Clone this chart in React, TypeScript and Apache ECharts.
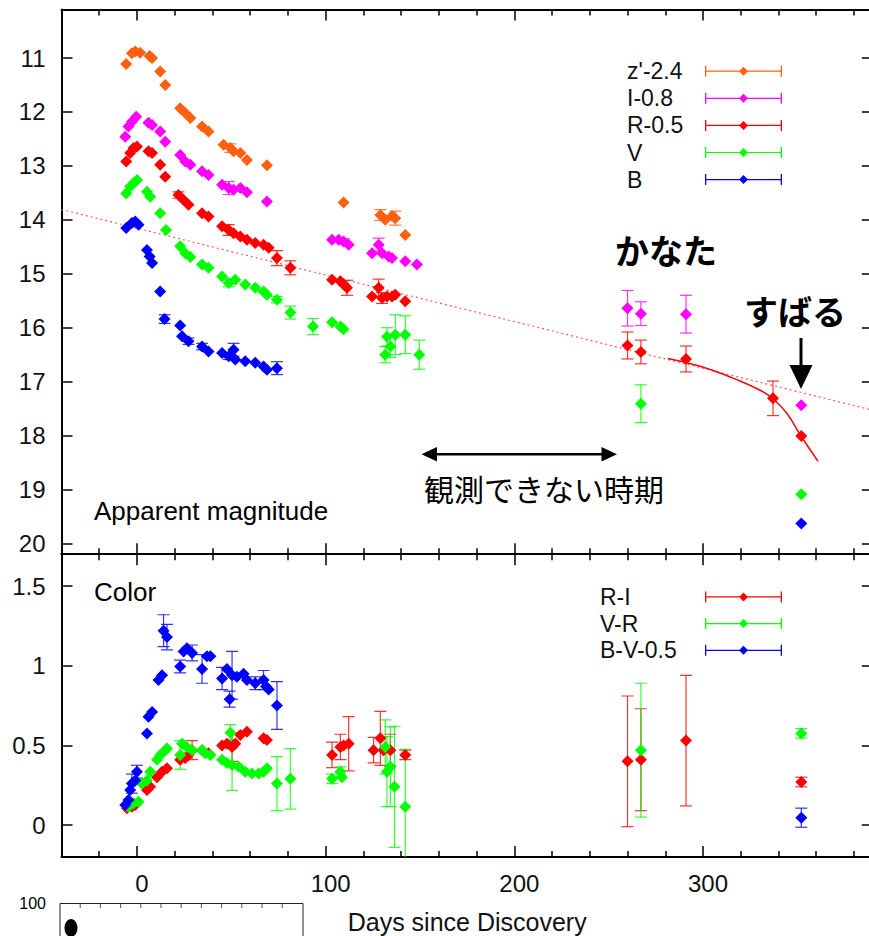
import React, { useEffect, useRef } from 'react';
import * as echarts from 'echarts';

const FONT = '"Liberation Sans", Arial, Helvetica, sans-serif';
const JP = '"Noto Sans CJK JP", sans-serif';

// ---- axis ticks ----
const magTicks = [11, 12, 13, 14, 15, 16, 17, 18, 19, 20];
const colorTicks = [0, 0.5, 1, 1.5];
const dayTicks = [0, 100, 200, 300];
const dayMinorTicks = [-20, 20, 40, 60, 80, 120, 140, 160, 180, 220, 240, 260, 280, 320, 340, 360, 380];

// ---- Apparent magnitude (top panel) ----
const zDays = [-5.7, -2.7, -0.9, 1.7, 6.7, 8.0, 12.3, 15.0, 22.9, 25.6, 28.3, 34.5, 37.9, 45.9, 49.5, 51.2, 54.8, 58.3, 68.9, 109.5, 129.0, 131.6, 135.2, 136.9, 142.2];
const zMag = [11.11, 10.91, 10.88, 10.9, 10.96, 11.0, 11.25, 11.5, 11.93, 12.02, 12.11, 12.27, 12.36, 12.61, 12.67, 12.73, 12.76, 12.89, 12.99, 13.68, 13.91, 14.0, 13.93, 13.97, 14.28];
const zErr = [0, 0, 0, 0, 0, 0, 0, 0, 0, 0, 0, 0, 0, 0, 0.08, 0, 0, 0, 0, 0, 0.1, 0, 0, 0.13, 0];

const iDays = [-6.2, -4.5, -2.7, -0.4, 6.1, 8.0, 12.3, 15.0, 22.9, 25.6, 28.3, 34.5, 37.9, 45.1, 48.6, 51.2, 54.8, 58.3, 68.9, 103.4, 106.9, 109.5, 112.2, 124.6, 128.1, 129.9, 133.4, 135.2, 142.2, 148.4, 260.0, 267.1, 291.0, 352.1];
const iMag = [12.46, 12.27, 12.18, 12.09, 12.2, 12.24, 12.36, 12.55, 12.8, 12.92, 12.98, 13.1, 13.17, 13.35, 13.41, 13.44, 13.41, 13.49, 13.66, 14.37, 14.37, 14.4, 14.46, 14.62, 14.46, 14.62, 14.68, 14.71, 14.77, 14.83, 15.64, 15.74, 15.75, 17.44];
const iErr = [0, 0, 0, 0, 0, 0, 0, 0, 0, 0, 0, 0, 0, 0, 0.12, 0, 0, 0, 0, 0, 0, 0.05, 0, 0, 0.12, 0, 0, 0, 0, 0, 0.33, 0.22, 0.35, 0];

const rDays = [-5.7, -3.6, -1.8, 0, 6.1, 8.0, 12.3, 15.0, 22.0, 24.7, 27.3, 34.5, 37.9, 45.1, 48.6, 51.2, 54.8, 58.3, 62.7, 67.1, 69.8, 74.2, 81.3, 103.4, 107.8, 109.5, 111.3, 124.6, 128.1, 129.9, 132.5, 135.2, 136.9, 142.2, 260.0, 267.1, 291.0, 337.1, 352.1];
const rMag = [12.92, 12.76, 12.67, 12.64, 12.73, 12.76, 12.98, 13.2, 13.54, 13.63, 13.72, 13.88, 13.94, 14.12, 14.19, 14.25, 14.31, 14.37, 14.43, 14.46, 14.52, 14.71, 14.89, 15.11, 15.14, 15.2, 15.26, 15.42, 15.26, 15.45, 15.42, 15.42, 15.39, 15.51, 16.33, 16.45, 16.58, 17.31, 18.01];
const rErr = [0, 0, 0, 0, 0, 0, 0, 0, 0.06, 0, 0, 0, 0, 0, 0.1, 0, 0, 0, 0, 0, 0, 0.14, 0.13, 0, 0, 0, 0.14, 0, 0.16, 0.1, 0, 0, 0, 0, 0.25, 0.22, 0.24, 0.32, 0];

const vDays = [-5.7, -3.6, -1.8, 0, 5.3, 7.0, 12.3, 15.4, 22.9, 25.6, 28.3, 34.5, 37.9, 45.1, 48.6, 52.1, 57.4, 62.7, 67.1, 68.9, 74.2, 81.3, 93.3, 103.4, 107.8, 109.5, 131.6, 132.5, 134.3, 136.9, 142.2, 149.6, 267.1, 352.1];
const vMag = [13.51, 13.38, 13.32, 13.26, 13.48, 13.57, 13.88, 14.19, 14.49, 14.62, 14.69, 14.83, 14.89, 15.05, 15.17, 15.11, 15.2, 15.26, 15.33, 15.39, 15.48, 15.72, 15.98, 15.9, 15.98, 16.03, 16.5, 16.17, 16.35, 16.13, 16.13, 16.5, 17.41, 19.09];
const vErr = [0, 0, 0, 0, 0, 0, 0, 0, 0, 0, 0, 0, 0, 0, 0.07, 0, 0, 0, 0, 0, 0.06, 0.12, 0.15, 0, 0, 0, 0.15, 0.17, 0.2, 0.37, 0.35, 0.27, 0.35, 0];

const bDays = [-5.7, -2.7, -0.9, 0.8, 5.3, 6.7, 8.0, 12.3, 14.6, 22.9, 23.9, 27.3, 34.5, 37.9, 45.1, 48.6, 51.2, 52.1, 57.4, 62.7, 67.1, 68.9, 74.2, 352.1];
const bMag = [14.15, 14.06, 14.03, 14.09, 14.56, 14.68, 14.8, 15.33, 15.84, 15.96, 16.16, 16.25, 16.35, 16.44, 16.47, 16.53, 16.41, 16.59, 16.62, 16.65, 16.72, 16.78, 16.75, 19.63];
const bErr = [0, 0, 0, 0, 0, 0, 0, 0, 0.08, 0, 0, 0.06, 0.06, 0, 0, 0.06, 0.12, 0, 0, 0, 0, 0, 0.12, 0];

// reference decline line (dotted) and late-time fit (solid)
const trendDays = [-40, 390];
const trendMag = [13.81, 17.53];
const fitDays = [281.4, 298.9, 316.2, 330.3, 337.1, 344.5, 351.6, 361.0];
const fitMag = [16.57, 16.72, 16.94, 17.16, 17.32, 17.59, 17.99, 18.48];

// ---- Color (bottom panel) ----
const riDays = [-5.3, -2.7, -0.9, 5.3, 7.0, 10.6, 13.3, 15.9, 22.9, 25.6, 27.3, 29.2, 34.5, 37.9, 45.1, 47.7, 50.4, 52.1, 54.8, 58.3, 67.1, 68.9, 103.4, 107.8, 109.5, 112.2, 125.4, 129.0, 130.7, 134.3, 142.2, 260.0, 267.1, 291.0, 352.1];
const riVal = [0.105, 0.115, 0.126, 0.22, 0.24, 0.3, 0.335, 0.356, 0.41, 0.42, 0.44, 0.47, 0.47, 0.45, 0.5, 0.51, 0.49, 0.51, 0.565, 0.585, 0.544, 0.533, 0.44, 0.49, 0.5, 0.51, 0.47, 0.544, 0.47, 0.47, 0.44, 0.4, 0.41, 0.53, 0.27];
const riErr = [0, 0, 0, 0, 0, 0, 0, 0, 0, 0, 0, 0.06, 0, 0, 0, 0, 0.09, 0, 0, 0, 0, 0, 0.08, 0.08, 0, 0.17, 0.08, 0.17, 0, 0.1, 0.03, 0.41, 0.32, 0.41, 0.03];

const vrDays = [-4.5, -1.8, 0.8, 2.6, 5.3, 7.0, 10.6, 12.3, 15.0, 15.9, 22.9, 23.9, 26.5, 29.2, 34.5, 36.2, 38.9, 45.1, 47.7, 49.5, 50.4, 53.9, 57.4, 60.9, 64.5, 67.1, 68.9, 74.2, 81.3, 103.4, 107.8, 108.7, 131.6, 132.5, 134.3, 136.5, 142.2, 267.1, 352.1];
const vrVal = [0.115, 0.136, 0.146, 0.26, 0.28, 0.335, 0.41, 0.44, 0.47, 0.48, 0.44, 0.51, 0.49, 0.47, 0.47, 0.45, 0.44, 0.41, 0.39, 0.58, 0.377, 0.366, 0.335, 0.324, 0.324, 0.335, 0.356, 0.26, 0.29, 0.29, 0.335, 0.3, 0.49, 0.335, 0.366, 0.24, 0.115, 0.47, 0.575];
const vrErr = [0, 0, 0, 0, 0, 0, 0, 0, 0, 0, 0.09, 0, 0, 0, 0, 0, 0, 0, 0, 0.05, 0.16, 0, 0, 0, 0, 0, 0, 0.17, 0.19, 0.03, 0.03, 0, 0.17, 0.22, 0.25, 0.38, 0.36, 0.42, 0.03];

const bvDays = [-6.2, -4.5, -3.6, -2.7, -0.9, 0, 5.3, 6.1, 8.0, 11.4, 13.3, 14.1, 15.9, 22.9, 24.7, 26.5, 29.2, 34.5, 37.1, 38.9, 45.1, 47.7, 49.1, 50.4, 53.0, 56.5, 58.3, 62.7, 67.1, 68.4, 69.8, 74.2, 352.1];
const bvVal = [0.126, 0.157, 0.22, 0.26, 0.28, 0.335, 0.575, 0.68, 0.71, 0.91, 0.94, 1.22, 1.18, 0.995, 1.09, 1.11, 1.08, 0.98, 1.06, 1.06, 0.92, 0.98, 0.79, 0.94, 0.93, 0.95, 0.91, 0.89, 0.91, 0.87, 0.85, 0.75, 0.046];
const bvErr = [0, 0, 0, 0.06, 0, 0.04, 0, 0, 0, 0, 0, 0.1, 0.08, 0.04, 0, 0, 0.05, 0.09, 0, 0, 0.07, 0, 0.05, 0.15, 0, 0, 0, 0.04, 0.06, 0, 0, 0.15, 0.06];

const C_Z = '#ff6010';
const C_I = '#ff00ff';
const C_R = '#ff0000';
const C_V = '#00ff00';
const C_B = '#0000ff';

const X_MIN = -40;
const X_MAX = 390;

const BLACK = '#111';
const axisLineStyle = { color: '#000', width: 2 };
const tickLineStyle = { color: '#000', width: 1.5 };

function pts(days: number[], vals: number[]) {
  return days.map((d, i) => [d, vals[i]]);
}
function bars(days: number[], vals: number[], errs: number[]) {
  const out: number[][] = [];
  days.forEach((d, i) => {
    if (errs[i] > 0) out.push([d, vals[i] - errs[i], vals[i] + errs[i]]);
  });
  return out;
}

function errRender(color: string) {
  return (params: any, api: any) => {
    const x = api.value(0);
    const a = api.coord([x, api.value(1)]);
    const b = api.coord([x, api.value(2)]);
    const w = 6;
    const st = { stroke: color, lineWidth: 1.2, opacity: 0.8 };
    return {
      type: 'group',
      children: [
        { type: 'line', shape: { x1: a[0], y1: a[1], x2: b[0], y2: b[1] }, style: st },
        { type: 'line', shape: { x1: a[0] - w, y1: a[1], x2: a[0] + w, y2: a[1] }, style: st },
        { type: 'line', shape: { x1: b[0] - w, y1: b[1], x2: b[0] + w, y2: b[1] }, style: st },
      ],
    };
  };
}

function band(name: string, color: string, days: number[], vals: number[], errs: number[], xi: number, yi: number) {
  return [
    {
      type: 'custom',
      name: name + ' err',
      xAxisIndex: xi,
      yAxisIndex: yi,
      data: bars(days, vals, errs),
      encode: { x: 0, y: [1, 2] },
      renderItem: errRender(color),
      clip: true,
      silent: true,
      z: 2,
    },
    {
      type: 'scatter',
      name,
      xAxisIndex: xi,
      yAxisIndex: yi,
      data: pts(days, vals),
      symbol: 'diamond',
      symbolSize: 12,
      itemStyle: { color, opacity: 1 },
      silent: true,
      z: 3,
    },
  ];
}

function xAxes(gi: number, showLabel: boolean) {
  const base = {
    type: 'value',
    gridIndex: gi,
    min: X_MIN,
    max: X_MAX,
    splitLine: { show: false },
  };
  const major = { show: true, inside: true, length: 11, customValues: dayTicks, lineStyle: tickLineStyle };
  const minor = { show: true, inside: true, length: 6, customValues: dayMinorTicks, lineStyle: tickLineStyle };
  return [
    {
      ...base,
      position: 'bottom',
      axisLine: { show: true, onZero: false, lineStyle: axisLineStyle },
      axisTick: major,
      axisLabel: {
        show: showLabel,
        customValues: dayTicks,
        fontSize: 24,
        fontFamily: FONT,
        color: BLACK,
        margin: 15,
        padding: [0, 0, 0, 10],
      },
      name: showLabel ? 'Days since Discovery' : '',
      nameLocation: 'middle',
      nameGap: 53,
      nameTextStyle: { fontSize: 25, fontFamily: FONT, color: BLACK },
    },
    {
      ...base,
      position: 'bottom',
      axisLine: { show: false, onZero: false },
      axisTick: minor,
      axisLabel: { show: false },
    },
    {
      ...base,
      position: 'top',
      axisLine: { show: true, onZero: false, lineStyle: axisLineStyle },
      axisTick: major,
      axisLabel: { show: false },
    },
    {
      ...base,
      position: 'top',
      axisLine: { show: false, onZero: false },
      axisTick: minor,
      axisLabel: { show: false },
    },
  ];
}

function yAxes(gi: number, min: number, max: number, inverse: boolean, ticks: number[]) {
  const base = {
    type: 'value',
    gridIndex: gi,
    min,
    max,
    inverse,
    splitLine: { show: false },
    axisLine: { show: true, onZero: false, lineStyle: axisLineStyle },
    axisTick: { show: true, inside: true, length: 11, customValues: ticks, lineStyle: tickLineStyle },
  };
  return [
    {
      ...base,
      position: 'left',
      axisLabel: {
        show: true,
        customValues: ticks,
        fontSize: 24,
        fontFamily: FONT,
        color: BLACK,
        margin: 16,
      },
    },
    {
      ...base,
      position: 'right',
      axisLabel: { show: false },
    },
  ];
}

const legendIcon =
  'path://M0,0h1.3v11h-1.3z M75.7,0h1.3v11h-1.3z M0,4.9h77v1.2h-77z M38.5,1 L43,5.5 L38.5,10 L34,5.5z';

function legendCfg(names: string[], left: number, top: number, textWidth: number, gap: number) {
  return {
    orient: 'vertical',
    left,
    top,
    padding: 0,
    itemGap: gap,
    itemWidth: 77,
    itemHeight: 11,
    align: 'right',
    icon: legendIcon,
    selectedMode: false,
    data: names,
    formatter: (n: string) => '{t|' + n + '}',
    textStyle: {
      color: BLACK,
      fontSize: 23,
      fontFamily: FONT,
      rich: {
        t: { width: textWidth, align: 'left', fontSize: 23, fontFamily: FONT, color: BLACK },
      },
    },
  };
}

function txt(text: string, x: number, y: number, size: number, family: string, weight = 'normal', align = 'left') {
  return {
    type: 'text',
    x,
    y,
    silent: true,
    style: {
      text,
      fontSize: size,
      fontFamily: family,
      fontWeight: weight,
      fill: '#000',
      textAlign: align,
      textVerticalAlign: 'middle',
    },
  };
}

function buildOption() {
  const insetTicks: any[] = [];
  for (let k = 1; k < 12; k++) {
    insetTicks.push({
      type: 'line',
      shape: { x1: 60 + k * 20.2, y1: 904, x2: 60 + k * 20.2, y2: 908 },
      style: { stroke: '#555', lineWidth: 1 },
      silent: true,
    });
  }
  return {
    animation: false,
    backgroundColor: '#fff',
    grid: [
      { left: 61.5, top: 9.5, width: 811.3, height: 544.7, outerBoundsMode: 'none', containLabel: false },
      { left: 61.5, top: 554.2, width: 811.3, height: 302.7, outerBoundsMode: 'none', containLabel: false },
    ],
    xAxis: [...xAxes(0, false), ...xAxes(1, true)],
    yAxis: [...yAxes(0, 10.1, 20.2, true, magTicks), ...yAxes(1, -0.2, 1.7, false, colorTicks)],
    legend: [
      legendCfg(["z'-2.4", 'I-0.8', 'R-0.5', 'V', 'B'], 627, 59.7, 73, 4.1),
      legendCfg(['R-I', 'V-R', 'B-V-0.5'], 600, 585.4, 100, 3.7),
    ],
    series: [
      {
        type: 'line',
        name: 'trend',
        xAxisIndex: 0,
        yAxisIndex: 0,
        data: pts(trendDays, trendMag),
        symbol: 'none',
        lineStyle: { color: '#ff5a5a', width: 1.2, type: [2, 3] },
        silent: true,
        z: 1,
      },
      ...band("z'-2.4", C_Z, zDays, zMag, zErr, 0, 0),
      ...band('I-0.8', C_I, iDays, iMag, iErr, 0, 0),
      ...band('R-0.5', C_R, rDays, rMag, rErr, 0, 0),
      ...band('V', C_V, vDays, vMag, vErr, 0, 0),
      ...band('B', C_B, bDays, bMag, bErr, 0, 0),
      {
        type: 'line',
        name: 'fit',
        xAxisIndex: 0,
        yAxisIndex: 0,
        data: pts(fitDays, fitMag),
        symbol: 'none',
        smooth: true,
        lineStyle: { color: '#ff0000', width: 1.5 },
        silent: true,
        z: 4,
      },
      ...band('R-I', C_R, riDays, riVal, riErr, 4, 2),
      ...band('V-R', C_V, vrDays, vrVal, vrErr, 4, 2),
      ...band('B-V-0.5', C_B, bvDays, bvVal, bvErr, 4, 2),
    ],
    graphic: [
      txt('Apparent magnitude', 94, 511, 26, FONT),
      txt('Color', 94, 592, 26, FONT),
      txt('かなた', 615, 249, 34, JP, 'bold'),
      txt('すばる', 744, 310, 34, JP, 'bold'),
      txt('観測できない時期', 424, 488, 30, JP),
      // down arrow to すばる
      { type: 'line', shape: { x1: 801, y1: 338, x2: 801, y2: 368 }, style: { stroke: '#000', lineWidth: 3 }, silent: true },
      { type: 'polygon', shape: { points: [[789.5, 365], [812.5, 365], [801, 389]] }, style: { fill: '#000' }, silent: true },
      // double arrow
      { type: 'line', shape: { x1: 432, y1: 454.3, x2: 606, y2: 454.3 }, style: { stroke: '#000', lineWidth: 2.5 }, silent: true },
      { type: 'polygon', shape: { points: [[421.5, 454.3], [437, 447], [437, 461.6]] }, style: { fill: '#000' }, silent: true },
      { type: 'polygon', shape: { points: [[617, 454.3], [601.5, 447], [601.5, 461.6]] }, style: { fill: '#000' }, silent: true },
      // inset remnant of a neighbouring figure (bottom-left)
      txt('100', 46, 903, 16, FONT, 'normal', 'right'),
      { type: 'rect', shape: { x: 60, y: 903.5, width: 243, height: 60 }, style: { fill: 'none', stroke: '#222', lineWidth: 1 }, silent: true },
      ...insetTicks,
      { type: 'ellipse', shape: { cx: 71, cy: 928, rx: 6.5, ry: 9 }, style: { fill: '#000' }, silent: true },
    ],
  };
}

export default function App() {
  const ref = useRef<HTMLDivElement>(null);
  useEffect(() => {
    if (!ref.current) return;
    const chart = echarts.init(ref.current, undefined, { renderer: 'svg' });
    chart.setOption(buildOption() as any);
    return () => chart.dispose();
  }, []);
  return (
    <div
      ref={ref}
      style={{ position: 'fixed', left: 0, top: 0, width: 869, height: 936, background: '#fff' }}
    />
  );
}
